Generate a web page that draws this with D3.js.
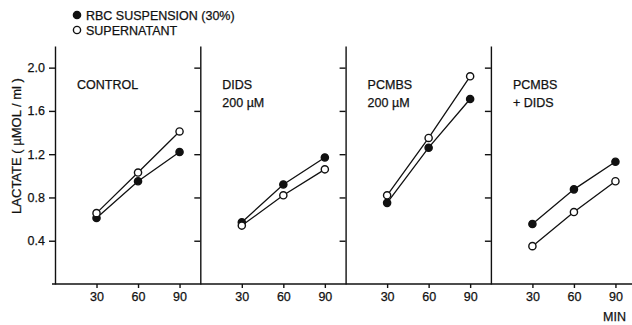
<!DOCTYPE html>
<html>
<head>
<meta charset="utf-8">
<script src="https://cdn.jsdelivr.net/npm/d3@7"></script>
<style>
  html, body { margin: 0; padding: 0; background: #fff; }
  svg { display: block; font-family: "Liberation Sans", Arial, sans-serif; }
  svg text { stroke: #111; stroke-width: 0.25; }
  .axis path, .axis line { stroke: #111; stroke-width: 1.4; }
  .axis text { font-size: 12.5px; fill: #111; }
</style>
</head>
<body>
<svg id="chart" width="632" height="325"></svg>
<script>
const minutes = [30, 60, 90];
const panelLabels = [
  ['CONTROL'],
  ['DIDS', '200 µM'],
  ['PCMBS', '200 µM'],
  ['PCMBS', '+ DIDS'],
];
// RBC suspension (30%) - filled circles
const rbcValues = [
  [0.61, 0.95, 1.22],
  [0.57, 0.92, 1.17],
  [0.75, 1.26, 1.71],
  [0.555, 0.875, 1.13],
];
// supernatant - open circles
const supernatantValues = [
  [0.655, 1.03, 1.41],
  [0.54, 0.82, 1.06],
  [0.82, 1.35, 1.92],
  [0.35, 0.665, 0.95],
];
const yTicks = [0.4, 0.8, 1.2, 1.6, 2.0];
const legendItems = [
  { label: 'RBC SUSPENSION (30%)', filled: true },
  { label: 'SUPERNATANT', filled: false },
];

const MARGIN = { top: 46, left: 55, bottom: 284 };
const PANEL_W = 145.3;
const INK = '#111';

const svg = d3.select('#chart');

const y = d3.scaleLinear().domain([0, 2.2]).range([MARGIN.bottom, MARGIN.top]);
const x = d3.scaleLinear().domain([0, 105]).range([0, PANEL_W]);

// continuous baseline under all panels
svg.append('line')
  .attr('x1', MARGIN.left - 3).attr('x2', 632)
  .attr('y1', MARGIN.bottom).attr('y2', MARGIN.bottom)
  .attr('stroke', INK).attr('stroke-width', 1.4);

panelLabels.forEach((lines, i) => {
  const x0 = MARGIN.left + i * PANEL_W;
  const g = svg.append('g').attr('transform', `translate(${x0},0)`);

  const yAxis = d3.axisLeft(y).tickValues(yTicks).tickSize(6).tickSizeOuter(0)
    .tickFormat(i === 0 ? d3.format('.1f') : () => '');
  g.append('g').attr('class', 'axis').call(yAxis)
    .selectAll('text').attr('x', -10);

  const xAxis = d3.axisBottom(x).tickValues(minutes).tickSize(4).tickSizeOuter(0);
  const xg = g.append('g').attr('class', 'axis')
    .attr('transform', `translate(0,${MARGIN.bottom})`).call(xAxis);
  xg.select('.domain').remove();
  xg.selectAll('text').attr('y', 8);

  const label = g.append('text')
    .attr('x', 22).attr('y', 89)
    .attr('font-size', 12.5).attr('fill', INK);
  lines.forEach((t, k) => {
    label.append('tspan').attr('x', 22).attr('dy', k === 0 ? 0 : 18).text(t);
  });

  const line = d3.line()
    .x((d, k) => x(minutes[k]))
    .y((d) => y(d));

  [
    { values: rbcValues[i], filled: true },
    { values: supernatantValues[i], filled: false },
  ].forEach((s) => {
    g.append('path')
      .datum(s.values)
      .attr('d', line)
      .attr('fill', 'none')
      .attr('stroke', INK)
      .attr('stroke-width', 1.3);
    g.selectAll(null)
      .data(s.values)
      .enter()
      .append('circle')
      .attr('cx', (d, k) => x(minutes[k]))
      .attr('cy', (d) => y(d))
      .attr('r', 3.6)
      .attr('fill', s.filled ? INK : '#fff')
      .attr('stroke', INK)
      .attr('stroke-width', 1.4);
  });
});

svg.append('text')
  .attr('x', 603).attr('y', 321)
  .attr('font-size', 12.5).attr('fill', INK)
  .text('MIN');

svg.append('text')
  .attr('transform', 'translate(21,146) rotate(-90)')
  .attr('text-anchor', 'middle')
  .attr('font-size', 13).attr('fill', INK)
  .text('LACTATE ( µMOL / ml )');

const legend = svg.append('g');
legendItems.forEach((d, k) => {
  const ly = 15 + k * 15;
  legend.append('circle')
    .attr('cx', 77).attr('cy', ly).attr('r', 3.6)
    .attr('fill', d.filled ? INK : '#fff')
    .attr('stroke', INK).attr('stroke-width', 1.4);
  legend.append('text')
    .attr('x', 86).attr('y', ly + 4.5)
    .attr('font-size', 12.5).attr('fill', INK)
    .text(d.label);
});
</script>
</body>
</html>
